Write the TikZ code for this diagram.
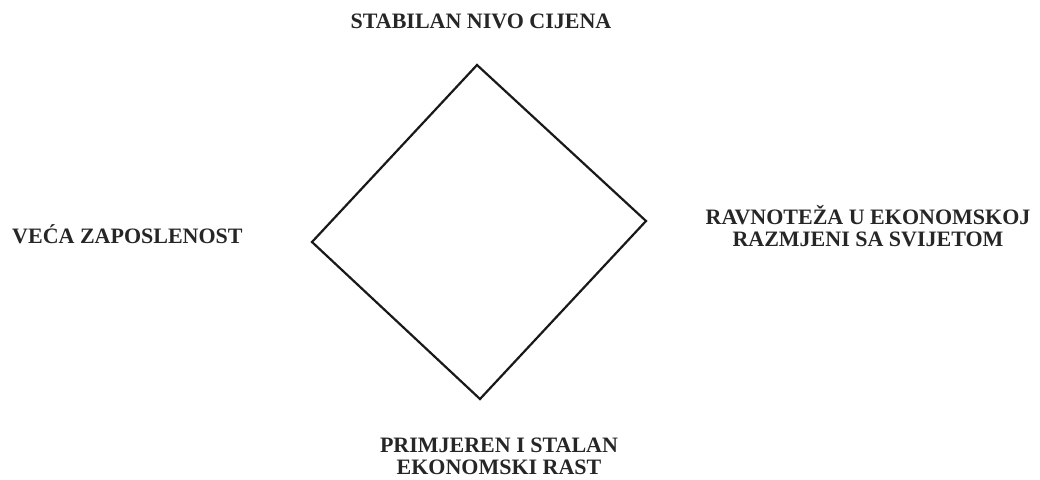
\documentclass[tikz,border=0pt]{standalone}
\usepackage{fontspec}
\setmainfont{Liberation Serif}
\begin{document}
\begin{tikzpicture}[x=1pt,y=-1pt,
  lbl/.style={font=\fontsize{22}{22}\selectfont\bfseries, align=center, inner sep=0pt, text=black!85},
  edge/.style={line width=2.2pt, black!90, line join=miter}]
\useasboundingbox (0,0) rectangle (1040,479);
\coordinate (t) at (477,65);
\coordinate (r) at (646,221);
\coordinate (b) at (480,399);
\coordinate (l) at (312,242);
\draw[edge] (t) -- (r) -- (b) -- (l) -- cycle;
\node[lbl] (top) at (481,21) {STABILAN NIVO CIJENA};
\node[lbl, anchor=west] (left) at (12,234) {VEĆA ZAPOSLENOST};
\node[lbl] (right) at (868,226) {RAVNOTEŽA U EKONOMSKOJ\\RAZMJENI SA SVIJETOM};
\node[lbl] (bottom) at (499,456) {PRIMJEREN I STALAN\\EKONOMSKI RAST};
\end{tikzpicture}
\end{document}
